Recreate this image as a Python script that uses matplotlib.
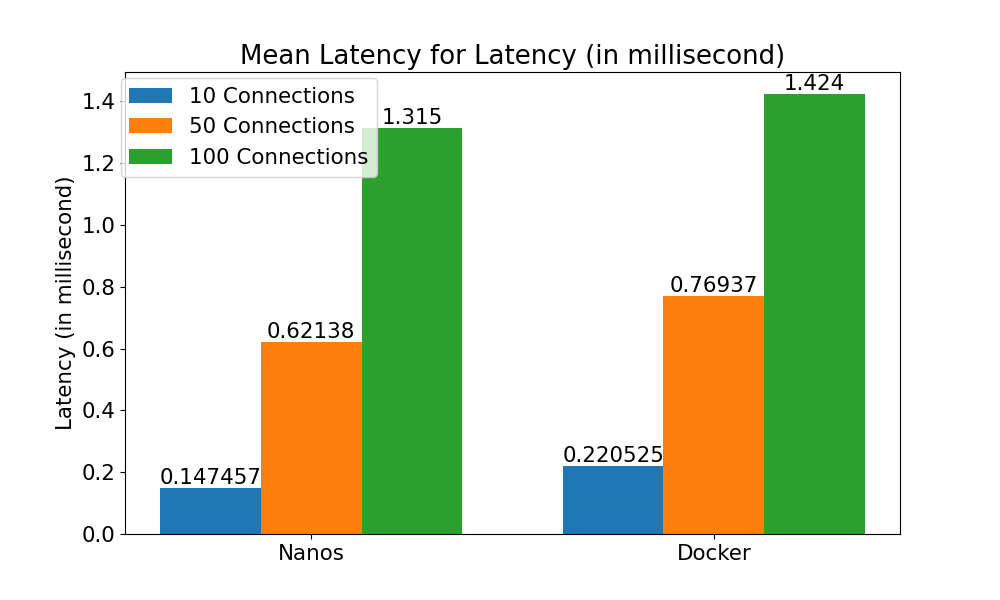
import matplotlib
matplotlib.use("Agg")
import matplotlib.pyplot as plt
import numpy as np

categories = ["Nanos", "Docker"]
series_names = ["10 Connections", "50 Connections", "100 Connections"]
values_10 = [0.147457, 0.220525]
values_50 = [0.62138, 0.76937]
values_100 = [1.315, 1.424]

plt.rcParams['font.size'] = 15.4
fig, ax = plt.subplots(figsize=(10, 6), dpi=100)
x = np.arange(len(categories))
w = 0.25
for i, (name, vals) in enumerate(zip(series_names, [values_10, values_50, values_100])):
    bars = ax.bar(x + (i - 1) * w, vals, w, label=name)
    ax.bar_label(bars, labels=[f"{v:g}" for v in vals])
ax.set_xticks(x)
ax.set_xticklabels(categories)
ax.set_ylabel("Latency (in millisecond)")
ax.set_title("Mean Latency for Latency (in millisecond)", fontsize=18.7)
ax.legend(loc="upper left", bbox_to_anchor=(-0.0055, 0.987), borderaxespad=0)
fig.savefig("out.png")
